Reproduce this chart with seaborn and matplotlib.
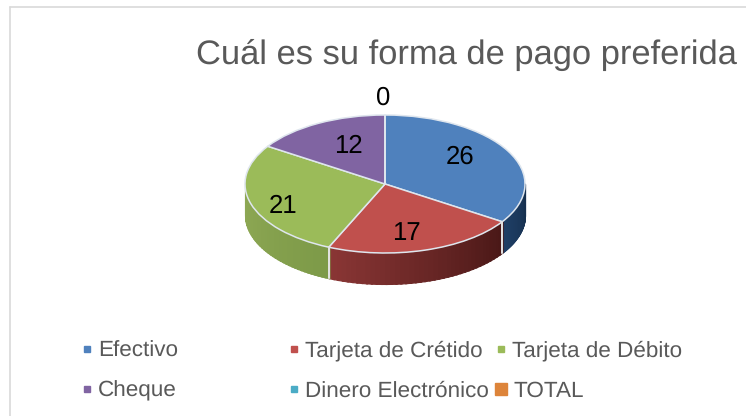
import numpy as np
import matplotlib
matplotlib.use("Agg")
import matplotlib.pyplot as plt
import seaborn as sns

# Data
categories = ["Efectivo", "Tarjeta de Crétido", "Tarjeta de Débito",
              "Cheque", "Dinero Electrónico", "TOTAL"]
values = [26, 17, 21, 12, 0, 0]
top_colors = ["#4f81bd", "#c0504d", "#9bbb59", "#8064a2", "#4bacc6", "#dd843a"]
side_dark = ["#16304f", "#4a1817", "#7d9a48", "#4a3560", "#2a6a7c", "#8a4f20"]
side_light = ["#1f3f66", "#8a3635", "#8fa955", "#5c4478", "#347f94", "#a55f28"]

sns.set_theme(style="white")
plt.rcParams["font.family"] = ["Liberation Sans", "DejaVu Sans"]
plt.rcParams["text.hinting"] = "no_hinting"
plt.rcParams["text.hinting_factor"] = 8

W, H = 746, 416
fig = plt.figure(figsize=(W / 100, H / 100), dpi=100)

# pie axes: unit circle squashed to 140 x 69 px ellipse centred at (385, 184)
cx, cy, rx, ry = 385, 184, 140, 69
pad = 1.1
ax = fig.add_axes([(cx - rx * pad) / W, 1 - (cy + ry * pad) / H,
                   2 * rx * pad / W, 2 * ry * pad / H])
depth = 31 / ry  # side height in data units

start = 90
ends = np.cumsum(values) / sum(values) * 360

# side walls, visible only on the front half of the ellipse
prev = 0
for i, e in enumerate(ends):
    a0, a1 = start - e, start - prev
    prev = e
    lo, hi = max(a0, 180), min(a1, 360)
    if a0 < 0:
        lo, hi = max(a0 + 360, 180), min(a1 + 360, 360)
    if a1 - a0 <= 0 or hi <= lo:
        continue
    n = 40
    cols = sns.blend_palette([side_light[i], side_dark[i]], n)
    edges = np.linspace(lo, hi, n + 1)
    for k in range(n):
        t = np.radians(edges[k:k + 2] + [-0.3, 0.3])
        ax.fill_between(np.cos(t), np.sin(t), np.sin(t) - depth,
                        facecolor=cols[k], edgecolor=cols[k], lw=0.8, clip_on=False)
    # light seam between slices
    for t in (lo, hi):
        if 180 < t < 360:
            x = np.cos(np.radians(t))
            y = np.sin(np.radians(t))
            ax.plot([x, x], [y, y - depth], color="#e4e4e4", lw=1.2, clip_on=False)

ax.pie(values, colors=top_colors, startangle=90, counterclock=False,
       wedgeprops={"edgecolor": "#dfe6ee", "linewidth": 1.1, "clip_on": False})
ax.set_aspect("auto")
ax.set_xlim(-pad, pad)
ax.set_ylim(-pad, pad)
ax.axis("off")


def to_data(px, py):
    return (px - cx) / rx, (cy - py) / ry


# data labels
label_pos = [(460, 157), (406, 233), (283, 206), (348, 146), (383, 98)]
for v, (px, py) in zip(values[:5], label_pos):
    x, y = to_data(px, py)
    ax.text(x, y, str(v), ha="center", va="center", fontsize=18.5, color="black", clip_on=False)

# title
fig.text(466 / W, 1 - 63.5 / H, "Cuál es su forma de pago preferida", ha="center", va="baseline",
         fontsize=24.8, color="#595959")

# chart frame
fig.add_artist(plt.Line2D([10 / W, 10 / W], [0, 1 - 6.5 / H], color="#d9d9d9", lw=1.2))
fig.add_artist(plt.Line2D([10 / W, 1], [1 - 6.5 / H, 1 - 6.5 / H], color="#d9d9d9", lw=1.2))

# legend, laid out by hand since the columns are uneven
leg_pos = [(84, 349), (291, 349), (498, 349), (84, 389), (291, 389), (495, 389)]
leg_size = [6, 6, 6, 6, 6, 12]
leg_text_x = [98, 305, 512, 98, 305, 513]
for name, col, (px, py), s, tx in zip(categories, top_colors, leg_pos, leg_size, leg_text_x):
    fig.patches.append(plt.Rectangle((px / W, 1 - (py + s / 2) / H), s / W, s / H,
                                     color=col, transform=fig.transFigure))
    fig.text(tx / W, 1 - (py + 7.5) / H, name, ha="left", va="baseline",
             fontsize=16.2, color="#595959")

fig.savefig("out.png", dpi=100)
